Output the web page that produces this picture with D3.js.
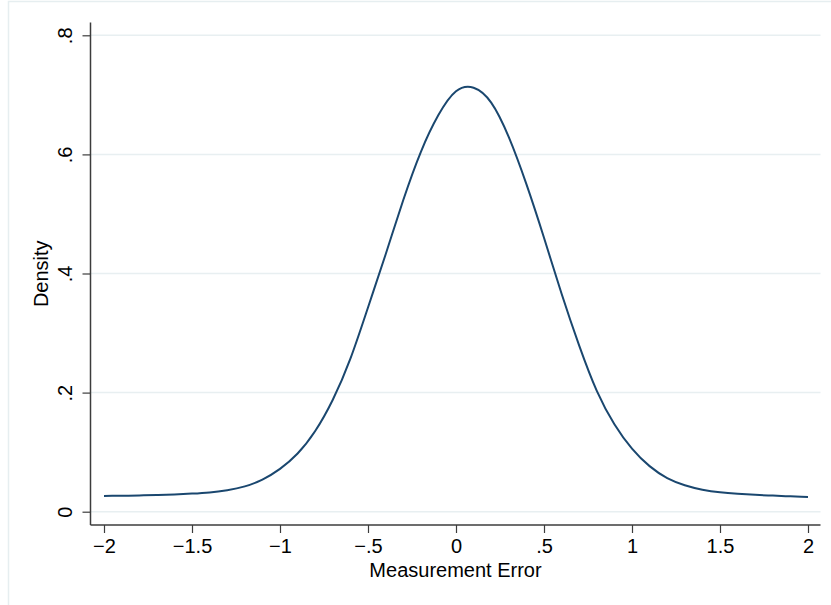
<!DOCTYPE html>
<html>
<head>
<meta charset="utf-8">
<script src="https://cdn.jsdelivr.net/npm/d3@7"></script>
<style>
  body { margin: 0; background: #fff; }
  svg { display: block; font-family: "Liberation Sans", Arial, Helvetica, sans-serif; }
</style>
</head>
<body>
<div id="graph"></div>
<script>
const errX = [-2.0, -1.9, -1.8, -1.7, -1.6, -1.5, -1.4, -1.3, -1.2, -1.1, -1.0, -0.9, -0.8, -0.7, -0.6, -0.5,
  -0.4, -0.3, -0.2, -0.1, 0.0, 0.1, 0.2, 0.3, 0.4, 0.5, 0.6, 0.7, 0.8, 0.9, 1.0, 1.1, 1.2, 1.3, 1.4,
  1.5, 1.6, 1.7, 1.8, 1.9, 2.0];
const density = [0.0264, 0.0268, 0.0273, 0.0280, 0.0290, 0.0304, 0.0324, 0.0362, 0.0425, 0.0540, 0.0720, 0.0977,
  0.1355, 0.1880, 0.2570, 0.3430, 0.4320, 0.5230, 0.6040, 0.6660, 0.7060, 0.7120, 0.6870, 0.6290, 0.5500,
  0.4600, 0.3660, 0.2790, 0.2030, 0.1470, 0.1060, 0.0765, 0.0565, 0.0445, 0.0370, 0.0325, 0.0300, 0.0283,
  0.0270, 0.0258, 0.0247];
const xTicks = [-2, -1.5, -1, -0.5, 0, 0.5, 1, 1.5, 2];
const yTicks = [0, 0.2, 0.4, 0.6, 0.8];

const W = 831, H = 605;
const box = { left: 90.5, right: 820.5, top: 22.5, bottom: 525 };

const svg = d3.select("#graph").append("svg")
  .attr("width", W)
  .attr("height", H);

// Cadre extérieur
svg.append("rect")
  .attr("x", 8.5).attr("y", 1.5)
  .attr("width", 900).attr("height", 700)
  .attr("fill", "none")
  .attr("stroke", "#e6eef0")
  .attr("stroke-width", 1.5);

// Échelles
const x = d3.scaleLinear().domain([-2, 2]).range([104, 808]);
const y = d3.scaleLinear().domain([0, 0.8]).range([511.7, 35.3]);

const fmt = v => {
  if (v === 0) return "0";
  let s = String(Math.abs(v)).replace(/^0\./, ".");
  return (v < 0 ? "\u2212" : "") + s;
};

// Grille horizontale
svg.append("g")
  .selectAll("line")
  .data(yTicks)
  .enter().append("line")
  .attr("x1", box.left).attr("x2", box.right)
  .attr("y1", d => y(d)).attr("y2", d => y(d))
  .attr("stroke", "#e8eff1")
  .attr("stroke-width", 1.5);

// Courbe de densité
const line = d3.line()
  .x((d, i) => x(errX[i]))
  .y(d => y(d))
  .curve(d3.curveNatural);

svg.append("path")
  .datum(density)
  .attr("d", line)
  .attr("fill", "none")
  .attr("stroke", "#1a476f")
  .attr("stroke-width", 2);

// Axes
const axisColor = "#3c3c3c";

const xAxis = svg.append("g")
  .attr("transform", `translate(0,${box.bottom})`)
  .call(d3.axisBottom(x).tickValues(xTicks).tickFormat(fmt).tickSize(8).tickSizeOuter(0).tickPadding(6));
xAxis.select(".domain").remove();
xAxis.selectAll(".tick line").attr("stroke", axisColor).attr("stroke-width", 1.2);
xAxis.selectAll(".tick text")
  .attr("fill", "#000")
  .style("font-size", "20px")
  .style("font-family", "'Liberation Sans', Arial, sans-serif");

const yAxis = svg.append("g")
  .attr("transform", `translate(${box.left},0)`)
  .call(d3.axisLeft(y).tickValues(yTicks).tickFormat(fmt).tickSize(8).tickSizeOuter(0));
yAxis.select(".domain").remove();
yAxis.selectAll(".tick line").attr("stroke", axisColor).attr("stroke-width", 1.2);
yAxis.selectAll(".tick text").remove();
yAxis.selectAll(".tick").append("text")
  .attr("transform", "translate(-18.5,0) rotate(-90)")
  .attr("text-anchor", "middle")
  .attr("fill", "#000")
  .style("font-size", "20px")
  .text(d => fmt(d));

// Lignes des axes
svg.append("line")
  .attr("x1", box.left).attr("x2", box.right)
  .attr("y1", box.bottom).attr("y2", box.bottom)
  .attr("stroke", axisColor).attr("stroke-width", 1.5);
svg.append("line")
  .attr("x1", box.left).attr("x2", box.left)
  .attr("y1", box.top).attr("y2", box.bottom)
  .attr("stroke", axisColor).attr("stroke-width", 1.5);

// Titres des axes
svg.append("text")
  .attr("x", (box.left + box.right) / 2)
  .attr("y", 577)
  .attr("text-anchor", "middle")
  .style("font-size", "20px")
  .text("Measurement Error");

svg.append("text")
  .attr("transform", `translate(47.5,${(box.top + box.bottom) / 2}) rotate(-90)`)
  .attr("text-anchor", "middle")
  .style("font-size", "20px")
  .text("Density");
</script>
</body>
</html>
